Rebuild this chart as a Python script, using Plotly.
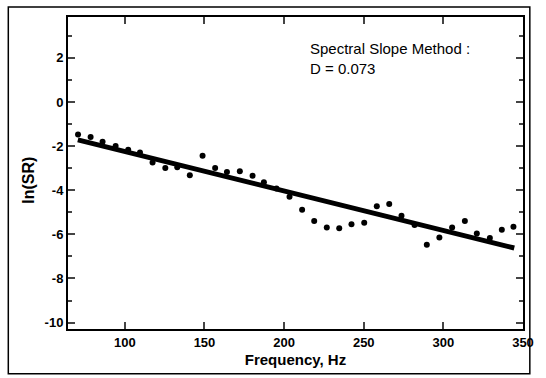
import plotly.graph_objects as go

freq = [70.6, 78.5, 86.0, 94.2, 102.1, 109.5, 117.4, 125.4, 132.9, 140.8, 148.8, 156.7,
        164.1, 172.2, 180.2, 187.3, 195.2, 203.4, 211.3, 218.9, 226.8, 234.6, 242.3, 250.3,
        258.2, 266.0, 273.7, 281.9, 289.6, 297.5, 305.5, 313.5, 321.0, 329.2, 336.7, 344.0]
ln_sr = [-1.47, -1.59, -1.80, -2.00, -2.17, -2.29, -2.74, -2.99, -2.96, -3.32, -2.44, -2.99,
         -3.17, -3.14, -3.35, -3.64, -3.92, -4.30, -4.88, -5.39, -5.69, -5.72, -5.54, -5.48,
         -4.73, -4.63, -5.16, -5.58, -6.47, -6.14, -5.69, -5.39, -5.96, -6.17, -5.79, -5.66]
fit_x = [70.5, 344.5]
fit_y = [-1.72, -6.62]
y_ticks = [2, 0, -2, -4, -6, -8, -10]
y_tick_text = ["2", "0", "-2", "-4", "-6", "-8", "-10"]
x_ticks = [100, 150, 200, 250, 300, 350]
annotation_lines = ["Spectral Slope Method :", "D = 0.073"]

font_family = "Liberation Sans, Arial, sans-serif"

fig = go.Figure()
fig.add_trace(go.Scatter(x=fit_x, y=fit_y, mode="lines",
                         line=dict(color="black", width=5), showlegend=False))
fig.add_trace(go.Scatter(x=freq, y=ln_sr, mode="markers",
                         marker=dict(color="black", size=6), showlegend=False))

fig.add_annotation(x=0.529, y=0.866, xref="paper", yref="paper", xanchor="left", yanchor="middle",
                   text="<br>".join(annotation_lines), showarrow=False, align="left",
                   borderpad=0,
                   font=dict(family=font_family, size=15, color="black"))

# y-axis title placed as rotated annotation
fig.add_annotation(x=-0.086, y=0.478, xref="paper", yref="paper", xanchor="center", yanchor="middle",
                   text="ln(SR)", textangle=-90, showarrow=False,
                   font=dict(family=font_family, size=16, color="black", weight="bold"))

fig.add_shape(type="rect", xref="paper", yref="paper", x0=-0.1312, x1=1.015, y0=-0.1433, y1=1.0318,
              line=dict(color="black", width=1.5), layer="below")

fig.update_layout(
    width=546, height=378,
    margin=dict(l=68, r=13, t=17, b=47),
    paper_bgcolor="white", plot_bgcolor="white",
    font=dict(family=font_family, size=13, color="black"),
    xaxis=dict(range=[64.3, 350], tickvals=x_ticks, ticks="inside", ticklen=7, tickwidth=2,
               showline=True, linewidth=2, linecolor="black", mirror="ticks",
               showgrid=False, zeroline=False,
               tickfont=dict(family=font_family, size=13, weight="bold"),
               title=dict(text="Frequency, Hz", standoff=6,
                          font=dict(family=font_family, size=15, weight="bold"))),
    yaxis=dict(range=[-10.29, 3.85], tickvals=y_ticks, ticktext=y_tick_text,
               ticks="inside", ticklen=7, tickwidth=2,
               showline=True, linewidth=2, linecolor="black", mirror="ticks",
               showgrid=False, zeroline=False,
               minor=dict(dtick=1, tick0=1, ticks="inside", ticklen=4, tickwidth=1.5, showgrid=False),
               tickfont=dict(family=font_family, size=13, weight="bold")),
)

fig.write_html("out.html")
